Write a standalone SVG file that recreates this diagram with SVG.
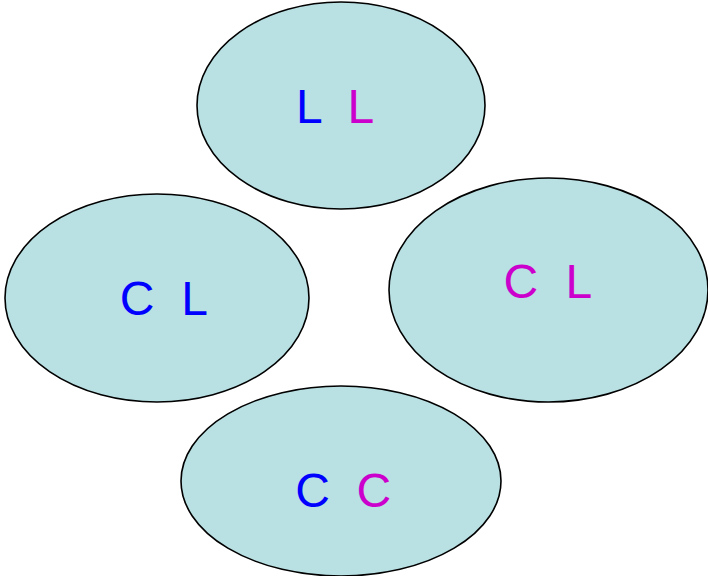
<svg xmlns="http://www.w3.org/2000/svg" width="708" height="576" viewBox="0 0 708 576">
<style>
.n{fill:#b9e0e3;stroke:#000;stroke-width:1.6}
.t{font-family:"Liberation Sans",Arial,sans-serif;font-size:48px}
.b{fill:#0000ff}
.m{fill:#cc00cc}
</style>
<rect width="708" height="576" fill="#fff"/>
<g id="connectors"></g>
<g id="node-LL">
<ellipse class="n" cx="341" cy="105.5" rx="144" ry="103.5"/>
<text class="t"><tspan class="b" x="296" y="123">L</tspan><tspan class="m" x="347.5" y="123">L</tspan></text>
</g>
<g id="node-CL-left">
<ellipse class="n" cx="157" cy="298" rx="152" ry="104"/>
<text class="t"><tspan class="b" x="119.8" y="315">C</tspan><tspan class="b" x="181.2" y="315">L</tspan></text>
</g>
<g id="node-CL-right">
<ellipse class="n" cx="548.5" cy="290" rx="159.5" ry="112"/>
<text class="t"><tspan class="m" x="503.5" y="298">C</tspan><tspan class="m" x="565.5" y="298">L</tspan></text>
</g>
<g id="node-CC">
<ellipse class="n" cx="341" cy="481" rx="160" ry="95"/>
<text class="t"><tspan class="b" x="295.2" y="507">C</tspan><tspan class="m" x="356.5" y="507">C</tspan></text>
</g>
</svg>
